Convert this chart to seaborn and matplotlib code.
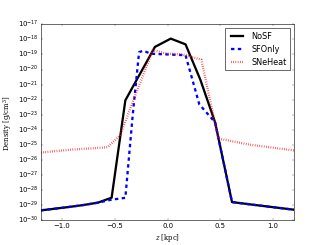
#!/usr/bin/env python3

import numpy as np
import matplotlib
matplotlib.use('Agg')
import matplotlib.pyplot as plt
import seaborn as sns

# density profiles across the disc, log10(rho [g/cm^3]) vs z [kpc]
nosf_z = [-1.2, -0.95, -0.8, -0.66, -0.53, -0.40, -0.26, -0.12, 0.03, 0.17, 0.31, 0.45, 0.61, 0.8, 1.0, 1.2]
nosf_logrho = [-29.33, -29.12, -28.98, -28.82, -28.49, -22.04, -20.27, -18.50, -17.95, -18.33, -20.67, -23.5, -28.78, -28.95, -29.12, -29.29]

sfonly_z = [-1.2, -0.95, -0.8, -0.66, -0.53, -0.40, -0.33, -0.27, -0.23, -0.16, 0.0, 0.17, 0.30, 0.45, 0.61, 0.8, 1.0, 1.2]
sfonly_logrho = [-29.33, -29.12, -28.98, -28.82, -28.62, -28.5, -23.0, -18.85, -18.75, -18.95, -19.0, -19.05, -22.3, -23.5, -28.78, -28.95, -29.12, -29.29]

sneheat_z = [-1.2, -0.9, -0.57, -0.45, -0.30, -0.14, 0.0, 0.15, 0.32, 0.48, 0.78, 1.2]
sneheat_logrho = [-25.5, -25.3, -25.15, -24.36, -21.6, -18.72, -18.95, -19.0, -19.35, -24.57, -24.98, -25.36]

def main():
	plt.style.use('classic')
	plt.rcParams['mathtext.fontset'] = 'dejavuserif'

	fig = plt.figure(figsize=(8, 6), dpi=40.875, facecolor='white')
	ax = fig.add_axes([0.125, 0.1, 0.775, 0.8])

	sns.lineplot(x=nosf_z, y=10.0 ** np.array(nosf_logrho), ax=ax,
		color='black', lw=4, label='NoSF', sort=False)
	sns.lineplot(x=sfonly_z, y=10.0 ** np.array(sfonly_logrho), ax=ax,
		color='blue', lw=4, ls='--', label='SFOnly', sort=False)
	sns.lineplot(x=sneheat_z, y=10.0 ** np.array(sneheat_logrho), ax=ax,
		color='red', lw=4, ls=':', label='SNeHeat', sort=False)

	ax.set_yscale('log')
	ax.set_xlim(-1.2, 1.2)
	ax.set_ylim(1e-30, 1e-17)
	ax.set_yticks([10.0 ** k for k in range(-30, -16)])
	ax.yaxis.set_minor_locator(matplotlib.ticker.NullLocator())
	ax.set_xticks([-1.0, -0.5, 0.0, 0.5, 1.0])

	ax.set_xlabel('$z$ [kpc]', family='DejaVu Serif')
	ax.set_ylabel('Density [g/cm$^3$]', family='DejaVu Serif')

	ax.legend(loc='upper right')

	plt.savefig('out.png', dpi=40.875, facecolor='white')

if __name__ == '__main__':
	main()
